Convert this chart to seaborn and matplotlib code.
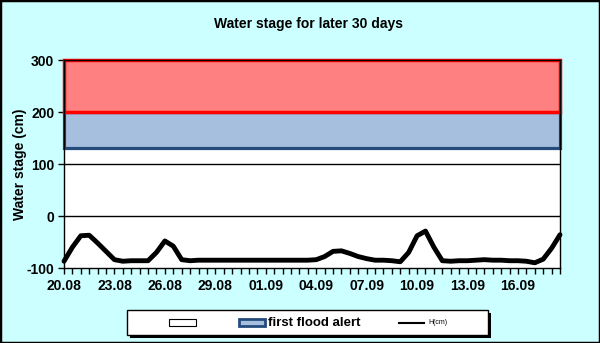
import matplotlib
matplotlib.use("Agg")
import matplotlib.pyplot as plt
from matplotlib.patches import Rectangle
from matplotlib.lines import Line2D
import numpy as np
import pandas as pd
import seaborn as sns

# Forecast water stage, one reading every 12 hours over 30 days
stage_cm = [
    -87, -60, -38, -37, -52, -68, -84, -87, -86, -86,
    -86, -70, -48, -58, -84, -86, -85, -85, -85, -85,
    -85, -85, -85, -85, -85, -85, -85, -85, -85, -85,
    -84, -78, -68, -67, -72, -78, -82, -85, -85, -86,
    -88, -70, -38, -29, -60, -86, -87, -86, -86, -85,
    -84, -85, -85, -86, -86, -87, -90, -83, -62, -36,
]
date_labels = ["20.08", "23.08", "26.08", "29.08", "01.09",
               "04.09", "07.09", "10.09", "13.09", "16.09"]
first_alert = [130, 200]    # lower / upper edge of first flood alert band (cm)
second_alert = [200, 300]   # band above the first alert (cm)
y_ticks = [-100, 0, 100, 200, 300]

BG = "#CCFFFF"
BLUE_FILL = "#A7BFDE"
BLUE_EDGE = "#254B7D"
RED_FILL = "#FF8080"

plt.rcParams["font.family"] = ["Liberation Sans", "DejaVu Sans"]

W, H = 600, 343
fig = plt.figure(figsize=(W / 100, H / 100), dpi=100, facecolor=BG)
fig.patches.append(Rectangle((0, 0), 1, 1, transform=fig.transFigure,
                             fill=False, edgecolor="black", lw=2.5))

def fx(px):
    return px / W

def fy(py):
    return 1 - py / H

ax = fig.add_axes([fx(64), fy(268), fx(560) - fx(64), fy(60) - fy(268)])
ax.set_facecolor("white")

df = pd.DataFrame({"t": np.arange(len(stage_cm)), "stage": stage_cm})
n_last = len(stage_cm) - 1

# gridlines
for v in (0, 100):
    ax.axhline(v, color="black", lw=1, zorder=1)

# alert bands
ax.add_patch(Rectangle((0, first_alert[0]), n_last, first_alert[1] - first_alert[0],
                       facecolor=BLUE_FILL, edgecolor=BLUE_EDGE, lw=2.3,
                       zorder=2, clip_on=False))
ax.add_patch(Rectangle((0, second_alert[0]), n_last, second_alert[1] - second_alert[0],
                       facecolor=RED_FILL, edgecolor="#FF0000", lw=2.5,
                       zorder=3, clip_on=False))

sns.lineplot(data=df, x="t", y="stage", ax=ax, color="black", lw=3.5,
             solid_joinstyle="round", solid_capstyle="round", zorder=5,
             clip_on=False)

ax.set_xlim(0, n_last)
ax.set_ylim(y_ticks[0], y_ticks[-1])
ax.set_xticks(np.arange(0, len(date_labels) * 6, 6))
ax.set_xticklabels(date_labels, fontsize=10, fontweight="bold")
ax.set_xticks(np.arange(0, n_last + 1), minor=True)
ax.set_yticks(y_ticks)
ax.set_yticklabels([str(v) for v in y_ticks], fontsize=10, fontweight="bold")
ax.tick_params(axis="both", which="both", direction="out", color="black",
               width=1, length=4, pad=3)
ax.tick_params(axis="x", which="minor", length=4)
ax.tick_params(axis="x", which="major", length=4, pad=4)
ax.set_xlabel("")
ax.set_ylabel("Water stage (cm)", fontsize=10, fontweight="bold", labelpad=0)
for s in ax.spines.values():
    s.set_color("black")
    s.set_linewidth(1)
    s.set_zorder(4)

fig.text(fx(308), fy(24), "Water stage for later 30 days", ha="center",
         va="center", fontsize=10, fontweight="bold")

# legend box with drop shadow
lx0, lx1, ly0, ly1 = 127, 488, 310, 335
fig.patches.append(Rectangle((fx(lx0 + 3), fy(ly1 + 3)), fx(lx1) - fx(lx0),
                             fy(ly0) - fy(ly1), transform=fig.transFigure,
                             facecolor="black", edgecolor="none", zorder=1))
fig.patches.append(Rectangle((fx(lx0), fy(ly1)), fx(lx1) - fx(lx0),
                             fy(ly0) - fy(ly1), transform=fig.transFigure,
                             facecolor="white", edgecolor="black", lw=1, zorder=2))
ym = 322.5
fig.patches.append(Rectangle((fx(169), fy(326)), fx(196) - fx(169), fy(319) - fy(326),
                             transform=fig.transFigure, facecolor="white",
                             edgecolor="black", lw=0.8, zorder=3))
fig.patches.append(Rectangle((fx(239), fy(326)), fx(265) - fx(239), fy(319) - fy(326),
                             transform=fig.transFigure, facecolor=BLUE_FILL,
                             edgecolor=BLUE_EDGE, lw=2, zorder=3))
fig.text(fx(268), fy(ym), "first flood alert", ha="left", va="center",
         fontsize=9.5, fontweight="bold", zorder=4)
fig.lines.append(Line2D([fx(399), fx(424)], [fy(ym), fy(ym)],
                        transform=fig.transFigure, color="black", lw=1.5, zorder=3))
fig.text(fx(428), fy(ym), "H(cm)", ha="left", va="center", fontsize=5, zorder=4)

fig.savefig("out.png", dpi=100, facecolor=BG)
